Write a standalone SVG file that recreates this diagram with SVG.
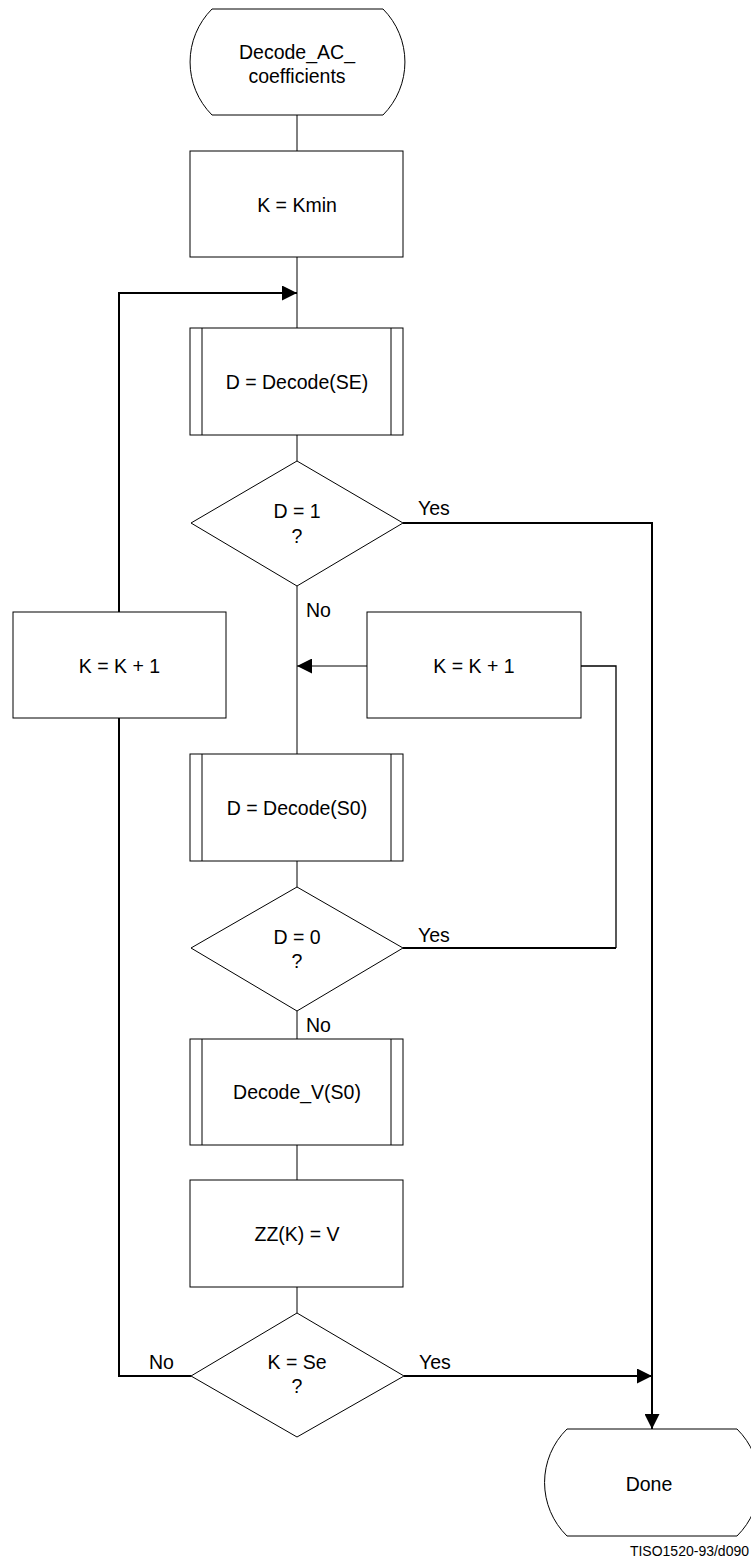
<svg xmlns="http://www.w3.org/2000/svg" width="751" height="1562" viewBox="0 0 751 1562">
<style>
.shape{fill:#fff;stroke:#000;stroke-width:1}
.t{font-family:"Liberation Sans",Arial,sans-serif;font-size:19.5px;fill:#000;text-anchor:middle}
.lbl{font-family:"Liberation Sans",Arial,sans-serif;font-size:19.5px;fill:#000}
.thin{fill:none;stroke:#000;stroke-width:1}
.thick{fill:none;stroke:#000;stroke-width:2}
.cap{font-family:"Liberation Sans",Arial,sans-serif;font-size:14px;fill:#000;text-anchor:end}
</style>
<defs>
<marker id="arr" viewBox="0 0 15 15" refX="15" refY="7.5" markerWidth="15" markerHeight="15" orient="auto" markerUnits="userSpaceOnUse">
<path d="M0,0 L15,7.5 L0,15 z" fill="#000"/>
</marker>
</defs>
<rect width="751" height="1562" fill="#fff"/>

<g id="connectors">
<path class="thin" d="M297,115 V151 M297,257 V328 M297,435 V461 M297,586 V754 M297,861 V887 M297,1011 V1039 M297,1145 V1180 M297,1287 V1313"/>
<path class="thick" d="M191,1376 H119 V718"/>
<path class="thick" d="M119,612 V293 H297" marker-end="url(#arr)"/>
<path class="thick" d="M403,523 H652 V1429" marker-end="url(#arr)"/>
<path class="thick" d="M404,1376 H652" marker-end="url(#arr)"/>
<path class="thick" d="M403,948 H616"/>
<path class="thin" d="M616,948 V666 H581" style="stroke-width:1.3"/>
<path class="thin" d="M367,666 H297" marker-end="url(#arr)"/>
</g>

<g id="start">
<path class="shape" d="M212,9 H383 A75,75 0 0 1 383,115 H212 A75,75 0 0 1 212,9 Z"/>
<text class="t" x="297" y="59">Decode_AC_</text>
<text class="t" x="297" y="83">coefficients</text>
</g>

<g id="kmin">
<rect class="shape" x="190" y="151" width="213" height="106"/>
<text class="t" x="297" y="212">K = Kmin</text>
</g>

<g id="decodeSE">
<rect class="shape" x="190" y="328" width="213" height="107"/>
<path class="thin" d="M202,328 V435 M391,328 V435"/>
<text class="t" x="297" y="389">D = Decode(SE)</text>
</g>

<g id="d1">
<polygon class="shape" points="297,461 403,523 297,586 191,523"/>
<text class="t" x="297" y="518">D = 1</text>
<text class="t" x="297" y="543">?</text>
<text class="lbl" x="418" y="515">Yes</text>
<text class="lbl" x="306" y="617">No</text>
</g>

<g id="kinc-left">
<rect class="shape" x="13" y="612" width="213" height="106"/>
<text class="t" x="119.5" y="673">K = K + 1</text>
</g>

<g id="kinc-right">
<rect class="shape" x="367" y="612" width="214" height="106"/>
<text class="t" x="474" y="673">K = K + 1</text>
</g>

<g id="decodeS0">
<rect class="shape" x="190" y="754" width="213" height="107"/>
<path class="thin" d="M202,754 V861 M391,754 V861"/>
<text class="t" x="297" y="815">D = Decode(S0)</text>
</g>

<g id="d0">
<polygon class="shape" points="297,887 403,948 297,1011 191,948"/>
<text class="t" x="297" y="944">D = 0</text>
<text class="t" x="297" y="968">?</text>
<text class="lbl" x="418" y="942">Yes</text>
<text class="lbl" x="306" y="1032">No</text>
</g>

<g id="decodeV">
<rect class="shape" x="190" y="1039" width="213" height="106"/>
<path class="thin" d="M202,1039 V1145 M391,1039 V1145"/>
<text class="t" x="297" y="1099">Decode_V(S0)</text>
</g>

<g id="zz">
<rect class="shape" x="190" y="1180" width="213" height="107"/>
<text class="t" x="297" y="1241">ZZ(K) = V</text>
</g>

<g id="kse">
<polygon class="shape" points="297,1313 404,1376 297,1437 191,1376"/>
<text class="t" x="297" y="1369">K = Se</text>
<text class="t" x="297" y="1393">?</text>
<text class="lbl" x="419" y="1369">Yes</text>
<text class="lbl" x="149" y="1369">No</text>
</g>

<g id="done">
<path class="shape" d="M567,1429 H737 A75,75 0 0 1 737,1536 H567 A75,75 0 0 1 567,1429 Z"/>
<text class="t" x="649" y="1491">Done</text>
</g>

<text class="cap" x="749" y="1556">TISO1520-93/d090</text>
</svg>
